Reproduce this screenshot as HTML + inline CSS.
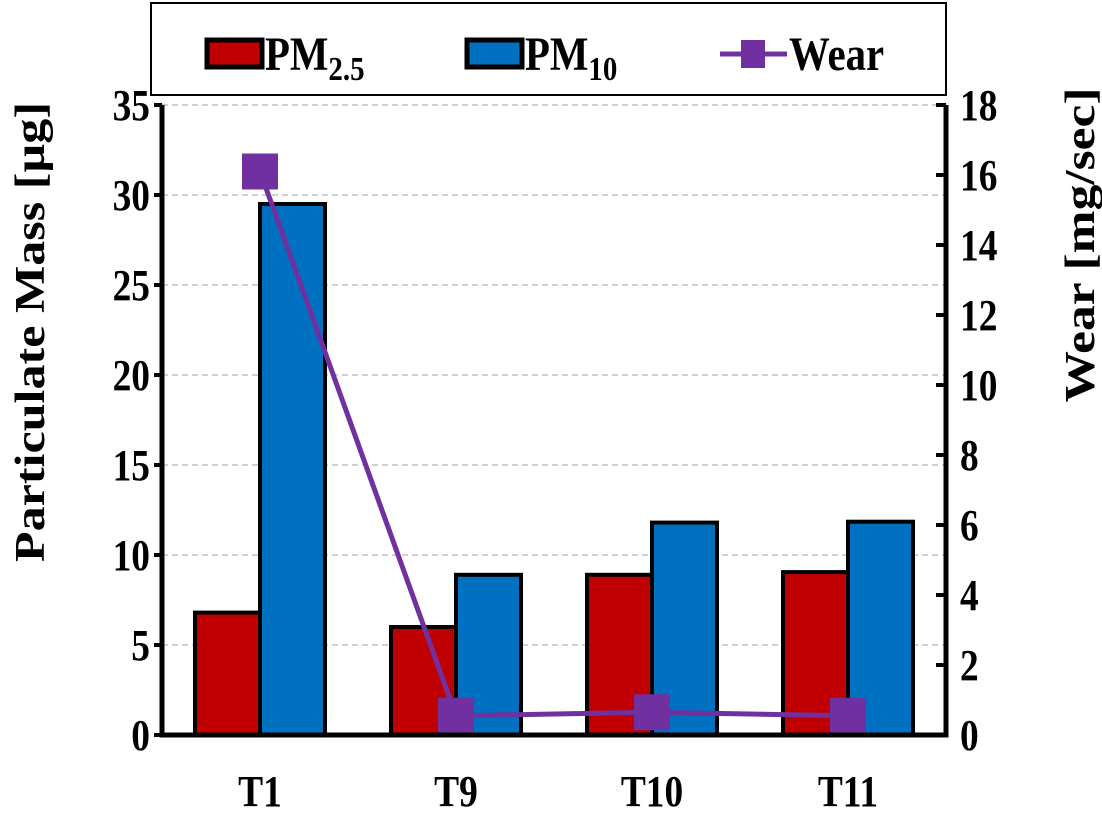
<!DOCTYPE html>
<html><head><meta charset="utf-8"><style>
body{margin:0;background:#fff;}
svg text{font-family:"Liberation Serif",serif;font-weight:bold;fill:#000;}
</style></head><body>
<svg width="1102" height="811" viewBox="0 0 1102 811" xmlns="http://www.w3.org/2000/svg">
<g id="grid"></g>
<g id="bars"></g>
<g id="line"></g>
<g id="axes"></g>
<text transform="translate(44,332) rotate(-90)" text-anchor="middle" font-size="42" textLength="460" lengthAdjust="spacingAndGlyphs">Particulate Mass [µg]</text>
<text transform="translate(1094,245) rotate(-90)" text-anchor="middle" font-size="42" textLength="315" lengthAdjust="spacingAndGlyphs">Wear [mg/sec]</text>
<g>
<rect x="151" y="3" width="795" height="92" fill="#fff" stroke="#000" stroke-width="2"/>
<g>
<rect x="207" y="40" width="55" height="27" fill="#c00000" stroke="#000" stroke-width="5"/>
<text transform="translate(265,70) scale(0.85,1)" font-size="48">PM<tspan font-size="34" dy="10">2.5</tspan></text></g>
<g>
<rect x="467" y="40" width="55" height="27" fill="#0070c0" stroke="#000" stroke-width="5"/>
<text transform="translate(525,70) scale(0.85,1)" font-size="48">PM<tspan font-size="34" dy="10">10</tspan></text></g>
<g>
<line x1="720" y1="54" x2="787" y2="54" stroke="#7030a0" stroke-width="5"/>
<rect x="741" y="40" width="24" height="28" fill="#7030a0"/>
<text transform="translate(789,70) scale(0.85,1)" font-size="48">Wear</text></g>
</g>
</svg>
<script>
const categories=["T1","T9","T10","T11"];
const pm25=[6.8,6.0,8.9,9.05];
const pm10=[29.5,8.9,11.8,11.85];
const wear=[16.1,0.55,0.65,0.55];
const yTicks=[0,5,10,15,20,25,30,35];
const y2Ticks=[0,2,4,6,8,10,12,14,16,18];
const NS="http://www.w3.org/2000/svg";
const L=162,R=946,B=735,T=105;
const y=v=>B-(v/35)*(B-T);
const y2=v=>B-(v/18)*(B-T);
const band=(R-L)/categories.length;
const cx=i=>L+band*(i+0.5);
function mk(tag,attrs,parent){const e=document.createElementNS(NS,tag);for(const k in attrs)e.setAttribute(k,attrs[k]);document.getElementById(parent).appendChild(e);return e;}
yTicks.forEach(t=>{
 if(t>0){const g=mk('line',{x1:L,x2:R,y1:y(t),y2:y(t),stroke:'#d0d0d0','stroke-width':2,'stroke-dasharray':'6,4'},'grid');
 
 }
 const tk=mk('line',{x1:L-8,x2:L,y1:y(t),y2:y(t),stroke:'#000','stroke-width':4},'axes');
 
 
 const lb=mk('text',{transform:`translate(${L-12},${y(t)+15}) scale(0.85,1)`,'text-anchor':'end','font-size':44},'axes');lb.textContent=t;
 
 
});
y2Ticks.forEach(t=>{
 const tk=mk('line',{x1:R-10,x2:R,y1:y2(t),y2:y2(t),stroke:'#000','stroke-width':4},'axes');
 
 
 const lb=mk('text',{transform:`translate(${R+14},${y2(t)+15}) scale(0.85,1)`,'text-anchor':'start','font-size':44},'axes');lb.textContent=t;
 
 
});
const bw=65;
categories.forEach((c,i)=>{
 const r=mk('rect',{x:cx(i)-bw,y:y(pm25[i]),width:bw,height:B-y(pm25[i]),fill:'#c00000',stroke:'#000','stroke-width':4},'bars');
 
 
 const b=mk('rect',{x:cx(i),y:y(pm10[i]),width:bw,height:B-y(pm10[i]),fill:'#0070c0',stroke:'#000','stroke-width':4},'bars');
 
 
 const lb=mk('text',{transform:`translate(${cx(i)},806) scale(0.85,1)`,'text-anchor':'middle','font-size':44},'axes');lb.textContent=c;
 
 
});
const pl=mk('polyline',{points:wear.map((v,i)=>cx(i)+','+y2(v)).join(' '),fill:'none',stroke:'#7030a0','stroke-width':5},'line');


wear.forEach((v,i)=>{
 const m=mk('rect',{x:cx(i)-18,y:y2(v)-18,width:36,height:36,fill:'#7030a0'},'line');
 
 
});
const ax=mk('path',{d:`M${L},${T} V${B} H${R} V${T}`,fill:'none',stroke:'#000','stroke-width':5},'axes');


</script>
</body></html>
